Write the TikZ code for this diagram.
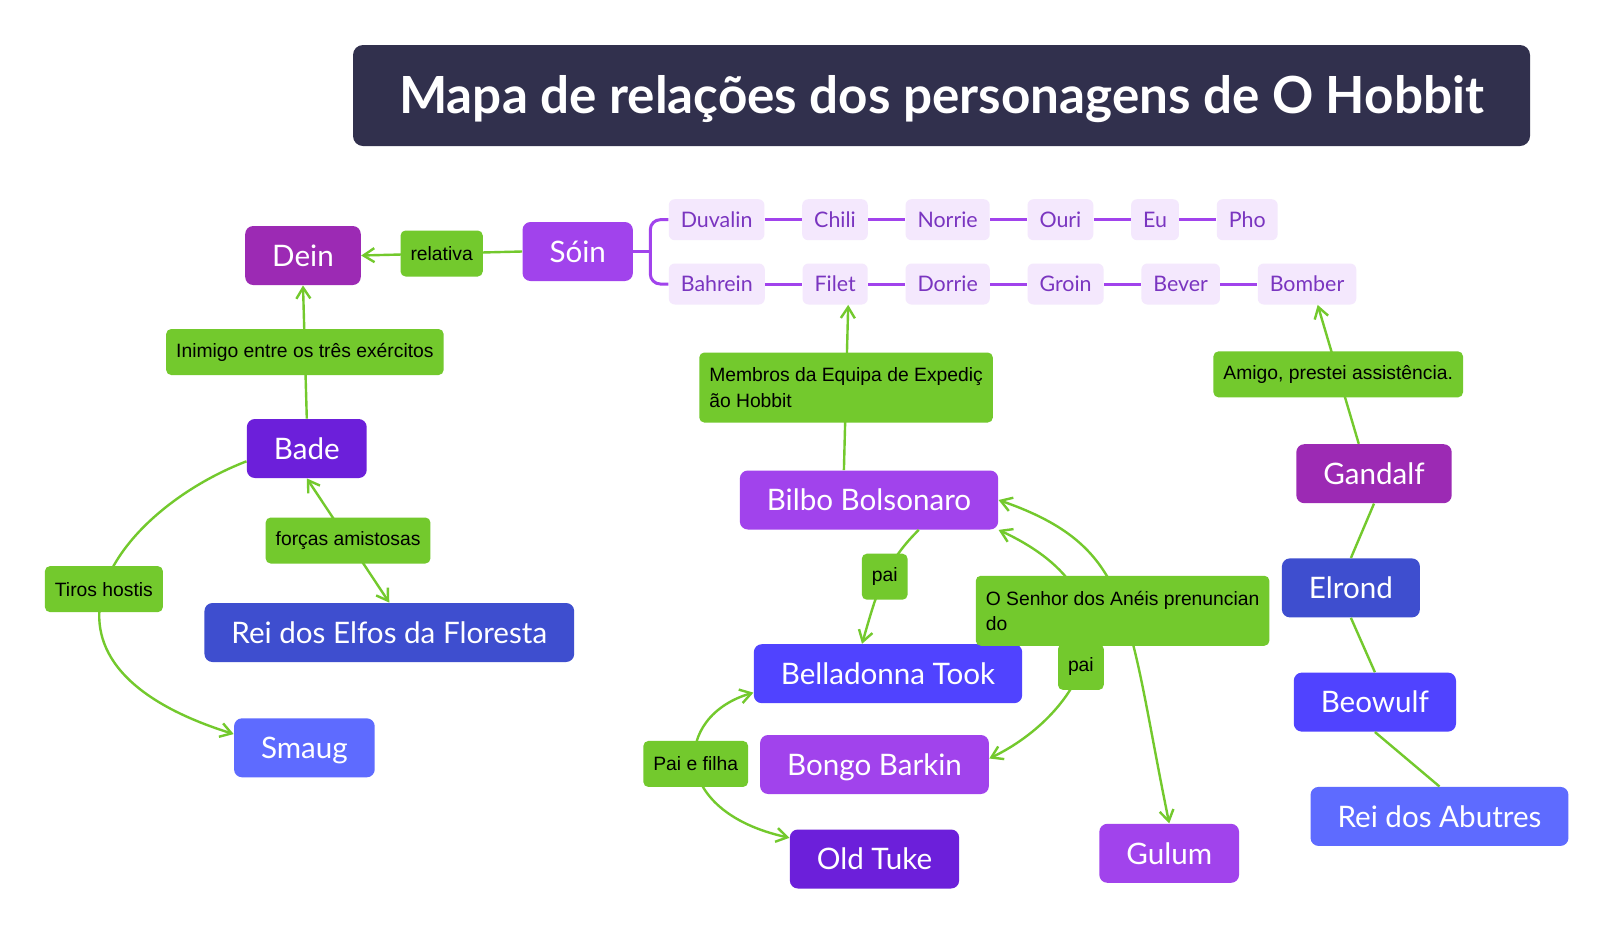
\documentclass[tikz,border=0pt]{standalone}
\usepackage{fontspec}
\setmainfont{Lato}
\newfontfamily\lblfont{Liberation Sans}
\usepackage{tikz}
\usetikzlibrary{arrows.meta,positioning}
\definecolor{titlebg}{HTML}{31304D}
\definecolor{roxoA}{HTML}{9C2AB4}
\definecolor{roxoB}{HTML}{A143EC}
\definecolor{roxoC}{HTML}{6C1FDA}
\definecolor{azulA}{HTML}{3E4ECF}
\definecolor{azulB}{HTML}{5043FF}
\definecolor{azulC}{HTML}{5E6BFF}
\definecolor{verde}{HTML}{73C92D}
\definecolor{anaofill}{HTML}{F4E8FD}
\definecolor{anaotxt}{HTML}{7A35C0}

\begin{document}
\begin{tikzpicture}[
  x=0.5pt, y=-0.5pt,
  chr/.style={rectangle, rounded corners=4pt, fill=#1, text=white, font=\fontsize{14.8pt}{16pt}\selectfont, inner xsep=13.5pt, inner ysep=0pt, text height=10.7pt, text depth=0pt, minimum height=29.5pt},
  dwf/.style={rectangle, rounded corners=3pt, fill=anaofill, text=anaotxt, font=\fontsize{10.7pt}{13pt}\selectfont, inner xsep=6pt, inner ysep=0pt, text height=7.7pt, text depth=0pt, minimum height=20.5pt},
  rel/.style={rectangle, rounded corners=2.5pt, fill=verde, text=black, font=\lblfont\fontsize{9.65pt}{12.6pt}\selectfont, inner xsep=5pt, inner ysep=2pt, minimum height=23pt, align=left},
  tall/.style={minimum height=35pt},
  link/.style={draw=verde, line width=1.2pt},
  arr/.style={link, -{Straight Barb[length=5.5pt,width=7pt]}},
  arrb/.style={link, {Straight Barb[length=5.5pt,width=7pt]}-{Straight Barb[length=5.5pt,width=7pt]}},
  twig/.style={draw=roxoB, line width=1.5pt}
]
\fill[white] (0,0) rectangle (1613,949);
\useasboundingbox (0,0) rectangle (1613,949);

\node[rectangle, rounded corners=5pt, fill=titlebg, text=white, minimum width=588.5pt, minimum height=50.5pt, text height=18.4pt, text depth=0pt, font=\bfseries\fontsize{25.6pt}{30pt}\selectfont] (titulo) at (941.5,95.5) {Mapa de relações dos personagens de O Hobbit};

\node[chr=roxoA] (dein) at (303,255.5) {Dein};
\node[chr=roxoB] (soin) at (577.7,251.5) {Sóin};
\node[chr=roxoC] (bade) at (306.8,448.5) {Bade};
\node[chr=azulA] (elfos) at (389.3,632.5) {Rei dos Elfos da Floresta};
\node[chr=azulC] (smaug) at (304.4,747.8) {Smaug};
\node[chr=roxoB] (bilbo) at (869,500) {Bilbo Bolsonaro};
\node[chr=azulB] (bella) at (888,673.7) {Belladonna Took};
\node[chr=roxoB] (bongo) at (874.5,764.5) {Bongo Barkin};
\node[chr=roxoC] (tuke) at (874.5,859) {Old Tuke};
\node[chr=roxoB] (gulum) at (1169.2,853.3) {Gulum};
\node[chr=roxoA] (gandalf) at (1374,473.7) {Gandalf};
\node[chr=azulA] (elrond) at (1350.9,587.9) {Elrond};
\node[chr=azulB] (beowulf) at (1374.9,702.1) {Beowulf};
\node[chr=azulC] (abutres) at (1439.5,816.4) {Rei dos Abutres};

\node[dwf, anchor=west] (duvalin) at (668.4,219.7) {Duvalin};
\node[dwf, right=18.5pt of duvalin] (chili) {Chili};
\node[dwf, right=18.5pt of chili] (norrie) {Norrie};
\node[dwf, right=18.5pt of norrie] (ouri) {Ouri};
\node[dwf, right=18.5pt of ouri] (eu) {Eu};
\node[dwf, right=18.5pt of eu] (pho) {Pho};
\node[dwf, anchor=west] (bahrein) at (668.4,284) {Bahrein};
\node[dwf, right=18.5pt of bahrein] (filet) {Filet};
\node[dwf, right=18.5pt of filet] (dorrie) {Dorrie};
\node[dwf, right=18.5pt of dorrie] (groin) {Groin};
\node[dwf, right=18.5pt of groin] (bever) {Bever};
\node[dwf, right=18.5pt of bever] (bomber) {Bomber};

\draw[twig] (soin.east) -- ++(17,0) coordinate (fork);
\draw[twig, rounded corners=5pt] (duvalin.west) -| (fork) |- (bahrein.west);
\draw[twig] (duvalin) -- (chili) -- (norrie) -- (ouri) -- (eu) -- (pho);
\draw[twig] (bahrein) -- (filet) -- (dorrie) -- (groin) -- (bever) -- (bomber);

\draw[arr] (soin.west) -- node[rel] {relativa} (dein.east);
\draw[arr] (bade.north) -- node[rel] {Inimigo entre os três exércitos} (dein.south);
\draw[arrb] (bade.south) -- node[rel] {forças amistosas} (elfos.north);
\draw[arr] (bade.192) .. controls (116,511.5) and (1,661) .. (smaug.169) node[rel, pos=0.5] {Tiros hostis};
\draw[arr] (bilbo.130) -- node[rel, tall] {Membros da Equipa de Expediç\\ão Hobbit} (filet.-58);
\draw[arr] (gandalf.117) -- node[rel] {Amigo, prestei assistência.} (bomber.-63);
\draw[arr] (bilbo.-31) .. controls (883,565) and (876,596) .. (bella.131) node[rel, pos=0.45] {pai};
\draw[arrb] (bilbo.south east) .. controls (1150,600) and (1080,715) .. (bongo.3) node[rel, pos=0.55] {pai};
\draw[arrb] (bilbo.east) .. controls (1134,547) and (1126,612.5) .. (gulum.north) node[rel, tall, pos=0.535] {O Senhor dos Anéis prenuncian\\do};
\draw[arrb] (bella.188) .. controls (673,716) and (668,811) .. (tuke.166) node[rel, pos=0.5] {Pai e filha};
\draw[link] (gandalf.south) -- (elrond.north);
\draw[link] (elrond.south) -- (beowulf.north);
\draw[link] (beowulf.south) -- (abutres.north);
\end{tikzpicture}
\end{document}
